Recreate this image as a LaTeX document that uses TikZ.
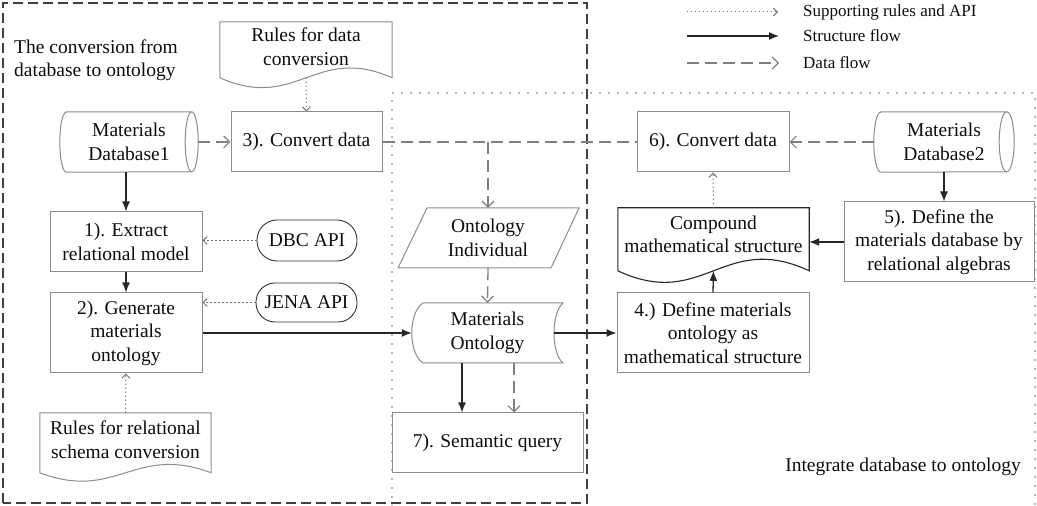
\documentclass[tikz,border=0pt]{standalone}
\usepackage{fontspec}
\setmainfont{Liberation Serif}
\usetikzlibrary{arrows.meta,calc}
\definecolor{boxgray}{gray}{0.55}
\definecolor{txt}{gray}{0.05}
\begin{document}
\begin{tikzpicture}[x=1pt,y=1pt,
  font=\fontsize{19.5}{23.5}\selectfont,
  plain/.style={inner sep=0pt, align=center, text=txt},
  box/.style={plain, draw=boxgray, line width=1pt},
  boxline/.style={draw=boxgray, line width=1pt},
  darkline/.style={draw=black!85, line width=1.1pt},
  sflow/.style={draw=black!85, line width=1.3pt, -{Latex[length=10pt,width=8pt]}},
  dline/.style={draw=black!50, line width=1.3pt, dash pattern=on 12pt off 6pt},
  dflow/.style={dline, -{Straight Barb[length=6pt,width=12pt,line width=1.2pt]}},
  rflow/.style={draw=black!55, line width=1pt, dash pattern=on 1.2pt off 2.8pt, -{Straight Barb[length=4pt,width=8pt,line width=1pt]}},
  frame/.style={draw=black!75, line width=1.8pt, dash pattern=on 10pt off 5pt},
  dotframe/.style={draw=black!60, line width=1.8pt, line cap=round, dash pattern=on 0pt off 9pt},
  legtext/.style={plain, anchor=west, font=\fontsize{17}{20}\selectfont}
]
\useasboundingbox (0,0) rectangle (1037,506);

% region frames
\draw[frame] (3,3) rectangle (587,503);
\draw[dotframe] (392,0) -- (392,413) -- (1035,413) -- (1035,0);

% legend
\coordinate (l1a) at (687,494); \coordinate (l1b) at (778,494);
\coordinate (l2a) at (687,470); \coordinate (l2b) at (779,470);
\coordinate (l3a) at (687,443); \coordinate (l3b) at (779,443);
\draw[rflow] (l1a) -- (l1b);
\draw[sflow] (l2a) -- (l2b);
\draw[dflow] (l3a) -- (l3b);
\node[legtext] (lt1) at (803,494) {Supporting rules and API};
\node[legtext] (lt2) at (803,470) {Structure flow};
\node[legtext] (lt3) at (803,443) {Data flow};

% region titles
\node[plain, anchor=west, align=left] (title) at (14,446) {The conversion from\\database to ontology};
\node[plain, anchor=east] (integ) at (1021,39) {Integrate database to ontology};

% Rules for data conversion (document)
\node[plain, minimum width=172pt, minimum height=49pt] (r1) at (306,459.5) {Rules for data\\conversion};
\draw[boxline] (r1.north west) -- (r1.north east) -- ++(0,-56)
  .. controls +(-77,34) and +(77,-34) .. ($(r1.north west)+(0,-56)$) -- cycle;
\coordinate (r1b) at ($(r1.north)+(0,-56)$);

% Materials Database1 (cylinder)
\node[plain, minimum width=138pt, minimum height=60pt] (db1) at (129,364) {Materials\\Database1};
\draw[boxline] ($(db1.north west)+(6.5,0)$) -- ($(db1.north east)+(-6.5,0)$)
  arc[start angle=90,end angle=-90,x radius=6.5,y radius=30]
  -- ($(db1.south west)+(6.5,0)$)
  arc[start angle=270,end angle=90,x radius=6.5,y radius=30] -- cycle;
\draw[boxline] ($(db1.north east)+(-6.5,0)$) arc[start angle=90,end angle=270,x radius=6.5,y radius=30];

% boxes left
\node[box, minimum width=151pt, minimum height=60pt] (c3) at (306.5,364) {3). Convert data};
\node[box, minimum width=152pt, minimum height=60pt] (e1) at (126,264) {1). Extract\\relational model};
\node[box, minimum width=152pt, minimum height=80pt] (g2) at (126,173) {2). Generate\\materials\\ontology};
\node[plain, draw=black!80, line width=0.9pt, rounded corners=20pt, minimum width=100pt, minimum height=41pt] (dbc) at (307,265.5) {DBC API};
\node[plain, draw=black!80, line width=0.9pt, rounded corners=19pt, minimum width=101pt, minimum height=39pt] (jena) at (306.5,203.5) {JENA API};

% Rules for relational schema conversion (document)
\node[plain, minimum width=171pt, minimum height=53pt] (r2) at (125.5,66.5) {Rules for relational\\schema conversion};
\draw[boxline] (r2.north west) -- (r2.north east) -- ++(0,-60)
  .. controls +(-77,29) and +(77,-29) .. ($(r2.north west)+(0,-60)$) -- cycle;

% Ontology Individual (parallelogram)
\node[plain, minimum width=150pt, minimum height=60pt] (oi) at (488,268) {Ontology\\Individual};
\draw[boxline] (398,238) -- (551,238) -- (579,298) -- (427,298) -- cycle;

% Materials Ontology (stored data)
\node[plain, minimum width=151pt, minimum height=60pt] (mo) at (487.5,173) {Materials\\Ontology};
\draw[boxline] (423,203) -- (563,203) .. controls (551,193) and (551,153) .. (563,143)
  -- (423,143) .. controls (408,153) and (408,193) .. (423,203) -- cycle;

% 7) Semantic query
\node[box, minimum width=191pt, minimum height=60pt] (sq) at (487.5,63) {7). Semantic query};

% right side
\node[box, minimum width=152pt, minimum height=60pt] (c6) at (713,364) {6). Convert data};
\node[plain, minimum width=140pt, minimum height=60pt] (db2) at (944,364) {Materials\\Database2};
\draw[boxline] ($(db2.north west)+(7,0)$) -- ($(db2.north east)+(-7.5,0)$)
  arc[start angle=90,end angle=-90,x radius=7.5,y radius=30]
  -- ($(db2.south west)+(7,0)$)
  arc[start angle=270,end angle=90,x radius=7,y radius=30] -- cycle;
\draw[boxline] ($(db2.north east)+(-7.5,0)$) arc[start angle=90,end angle=270,x radius=7.5,y radius=30];

\node[plain, minimum width=191pt, minimum height=53pt] (cp) at (713.5,271.5) {Compound\\mathematical structure};
\draw[darkline] (cp.north west) -- (cp.north east) -- ++(0,-63)
  .. controls +(-86,40) and +(86,-40) .. ($(cp.north west)+(0,-63)$) -- cycle;
\coordinate (cpb) at ($(cp.north)+(0,-63)$);

\node[box, minimum width=190pt, minimum height=80pt] (d5) at (939,264) {5). Define the\\materials database by\\relational algebras};
\node[box, minimum width=192pt, minimum height=80pt] (d4) at (713,173) {4.) Define materials\\ontology as\\mathematical structure};

% structure flow
\draw[sflow] (e1.north |- db1.south) -- (e1.north);
\draw[sflow] (e1.south) -- (g2.north);
\draw[sflow] (g2.east) -- (mo.west);
\draw[sflow] ([xshift=-9pt]mo.east) -- (d4.west);
\draw[sflow] ($(mo.south)+(-25.5,0)$) -- ($(sq.north)+(-25.5,0)$);
\draw[sflow] (d4.north) -- (cpb);
\draw[sflow] (db2.south) -- (db2.south |- d5.north);
\draw[sflow] (d5.west) -- (d5.west -| cp.east);

% data flow
\draw[dflow] (db1.east) -- (c3.west);
\draw[dline] (c3.east) -- (c6.west);
\coordinate (jn) at (oi.north |- c3.east);
\draw[dflow] (jn) -- (oi.north);
\draw[dflow] (oi.south) -- (mo.north);
\draw[dflow] ($(mo.south)+(26.5,0)$) -- ($(sq.north)+(26.5,0)$);
\draw[dflow] (db2.west) -- (c6.east);

% supporting rules and API
\draw[rflow] (r1b) -- (c3.north);
\draw[rflow] (dbc.west) -- (dbc.west -| e1.east);
\draw[rflow] (jena.west) -- (jena.west -| g2.east);
\draw[rflow] (r2.north) -- (g2.south);
\draw[rflow] (cp.north) -- (c6.south);
\end{tikzpicture}
\end{document}
